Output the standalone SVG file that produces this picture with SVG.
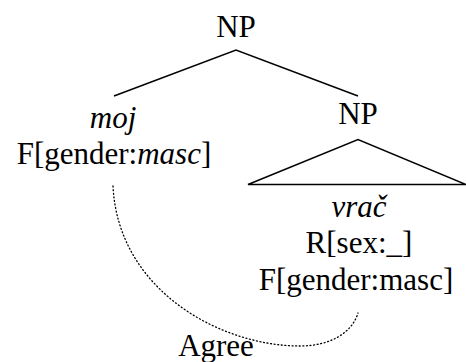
<svg xmlns="http://www.w3.org/2000/svg" width="466" height="362" viewBox="0 0 466 362">
<style>
text{font-size:31px;fill:#000;text-anchor:middle}
.i{font-style:italic}
.edge{stroke:#000;stroke-width:1.5;fill:none}
.dot{stroke:#000;stroke-width:1.3;fill:none;stroke-dasharray:1 2.6;stroke-linecap:round}
</style>
<rect width="466" height="362" fill="#fff"/>
<g id="connectors">
<path class="edge" d="M114,96 L236,50 L358,96"/>
<path class="edge" d="M248,184.5 L358,139.5 L466,184.5 Z"/>
<path class="dot" d="M113,186 C118,290 220,346 300,346 C330,346 352,333 358,313"/>
</g>
<g font-family="Liberation Serif, serif">
<g id="np-root"><text x="236" y="37">NP</text></g>
<g id="moj"><text x="113" y="128" class="i">moj</text><text x="114" y="164">F[gender:<tspan class="i">masc</tspan>]</text></g>
<g id="np-sub"><text x="358" y="124">NP</text></g>
<g id="vrac"><text x="359" y="217" class="i">vrač</text><text x="359" y="253">R[sex:_]</text><text x="356" y="290">F[gender:masc]</text></g>
<g id="agree"><text x="216" y="356">Agree</text></g>
</g>
</svg>
